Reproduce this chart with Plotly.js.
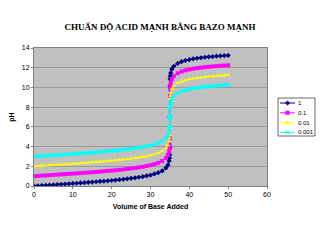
<!DOCTYPE html>
<html><head><meta charset="utf-8">
<script src="https://cdn.plot.ly/plotly-3.0.1.min.js"></script>
<style>html,body{margin:0;padding:0;background:#fff}#c{width:320px;height:240px}</style>
</head><body><div id="c"></div>
<script>
var volume = [0,1,2,3,4,5,6,7,8,9,10,11,12,13,14,15,16,17,18,19,20,21,22,23,24,25,26,27,28,29,30,31,32,33,34,34.5,34.8,34.9,34.95,34.99,35,35.01,35.05,35.1,35.2,35.5,36,37,38,39,40,41,42,43,44,45,46,47,48,49,50];
var ph_1 = [0.00,0.02,0.05,0.07,0.10,0.12,0.15,0.18,0.20,0.23,0.26,0.28,0.31,0.34,0.37,0.40,0.43,0.46,0.49,0.53,0.56,0.60,0.64,0.68,0.73,0.78,0.83,0.89,0.95,1.03,1.11,1.22,1.35,1.53,1.84,2.14,2.54,2.84,3.15,3.85,7.00,10.15,10.85,11.15,11.46,11.85,12.15,12.44,12.61,12.73,12.82,12.90,12.96,13.01,13.06,13.10,13.13,13.17,13.20,13.22,13.25];
var ph_01 = [1.00,1.02,1.05,1.07,1.10,1.12,1.15,1.18,1.20,1.23,1.26,1.28,1.31,1.34,1.37,1.40,1.43,1.46,1.49,1.53,1.56,1.60,1.64,1.68,1.73,1.78,1.83,1.89,1.95,2.03,2.11,2.22,2.35,2.53,2.84,3.14,3.54,3.84,4.15,4.85,7.00,9.15,9.85,10.15,10.46,10.85,11.15,11.44,11.61,11.73,11.82,11.90,11.96,12.01,12.06,12.10,12.13,12.17,12.20,12.22,12.25];
var ph_001 = [2.00,2.02,2.05,2.07,2.10,2.12,2.15,2.18,2.20,2.23,2.26,2.28,2.31,2.34,2.37,2.40,2.43,2.46,2.49,2.53,2.56,2.60,2.64,2.68,2.73,2.78,2.83,2.89,2.95,3.03,3.11,3.22,3.35,3.53,3.84,4.14,4.54,4.84,5.15,5.85,7.00,8.15,8.85,9.15,9.46,9.85,10.15,10.44,10.61,10.73,10.82,10.90,10.96,11.01,11.06,11.10,11.13,11.17,11.20,11.22,11.25];
var ph_0001 = [3.00,3.02,3.05,3.07,3.10,3.12,3.15,3.18,3.20,3.23,3.26,3.28,3.31,3.34,3.37,3.40,3.43,3.46,3.49,3.53,3.56,3.60,3.64,3.68,3.73,3.78,3.83,3.89,3.95,4.03,4.11,4.22,4.35,4.53,4.84,5.14,5.54,5.84,6.15,6.86,7.00,7.14,7.85,8.15,8.46,8.85,9.15,9.44,9.61,9.73,9.82,9.90,9.96,10.01,10.06,10.10,10.13,10.17,10.20,10.22,10.25];
var seriesNames = ["1","0.1","0.01","0.001"];
var colors = ["#000080","#FF00FF","#FFFF00","#00FFFF"];
var symbols = ["diamond","square","triangle-up","x"];
var ys = [ph_1, ph_01, ph_001, ph_0001];
var traces = ys.map(function(y,i){
  return {x: volume, y: y, name: seriesNames[i], type:'scatter', mode:'lines+markers', showlegend:false,
    line:{color:colors[i], width:1}, marker:{color:colors[i], symbol:symbols[i], size:4}};
});

// layout geometry (pixels)
var L = 34, R = 267, T = 48, B = 186;
function fx(px){ return (px - L) / (R - L); }
function fy(py){ return (B - py) / (B - T); }

// compact legend drawn with shapes + annotations
var shapes = [{type:'rect', xref:'paper', yref:'paper', x0:fx(278), x1:fx(315), y0:fy(136), y1:fy(98),
  line:{color:'#000', width:0.6}, fillcolor:'#ffffff', layer:'above'}];
var annotations = [];
var markerPaths = [
  'M -2.2 0 L 0 2.2 L 2.2 0 L 0 -2.2 Z',
  'M -1.8 -1.8 L 1.8 -1.8 L 1.8 1.8 L -1.8 1.8 Z',
  'M -2 -1.7 L 2 -1.7 L 0 2 Z',
  'M -1.8 -1.8 L 1.8 1.8 M -1.8 1.8 L 1.8 -1.8'
];
seriesNames.forEach(function(n,i){
  var py = 103 + i*9.8;
  shapes.push({type:'line', xref:'paper', yref:'paper', x0:fx(280), x1:fx(295), y0:fy(py), y1:fy(py),
    line:{color:colors[i], width:1}, layer:'above'});
  shapes.push({type:'path', xref:'paper', yref:'paper', xsizemode:'pixel', ysizemode:'pixel',
    xanchor:fx(287.5), yanchor:fy(py), path:markerPaths[i], fillcolor:colors[i],
    line:{color:colors[i], width:i===3?1:0.5}, layer:'above'});
  annotations.push({xref:'paper', yref:'paper', x:fx(295.5), y:fy(py), xanchor:'left', yanchor:'middle',
    text:n, showarrow:false, font:{family:'Liberation Sans', size:6, color:'#000'}});
});

var layout = {
  width:320, height:240,
  margin:{l:L, r:320-R, t:T, b:240-B, autoexpand:false},
  paper_bgcolor:'#ffffff', plot_bgcolor:'#C0C0C0',
  title:{text:'<b>CHUẨN ĐỘ ACID MẠNH BẰNG BAZO MẠNH</b>', font:{family:'Liberation Serif', size:9, color:'#000'}, x:0.5, xanchor:'center', y:0.888, yanchor:'middle', yref:'container'},
  xaxis:{range:[0,60], dtick:10, tick0:0, showgrid:false, zeroline:false, showline:true, linecolor:'#808080', mirror:true,
    ticks:'outside', ticklen:2, tickcolor:'#808080', tickfont:{family:'Liberation Sans', size:7, color:'#000'},
    title:{text:'<b>Volume of Base Added</b>', font:{family:'Liberation Sans', size:7, color:'#000'}, standoff:6}},
  yaxis:{range:[0,14], dtick:2, tick0:0, showgrid:true, gridcolor:'#808080', gridwidth:0.6, zeroline:false, showline:true, linecolor:'#808080', mirror:true,
    ticks:'outside', ticklen:2, tickcolor:'#808080', tickfont:{family:'Liberation Sans', size:7, color:'#000'},
    title:{text:'<b>pH</b>', font:{family:'Liberation Sans', size:7, color:'#000'}, standoff:6}},
  showlegend:false,
  shapes:shapes, annotations:annotations
};
Plotly.newPlot('c', traces, layout, {displayModeBar:false, staticPlot:true});
</script></body></html>
